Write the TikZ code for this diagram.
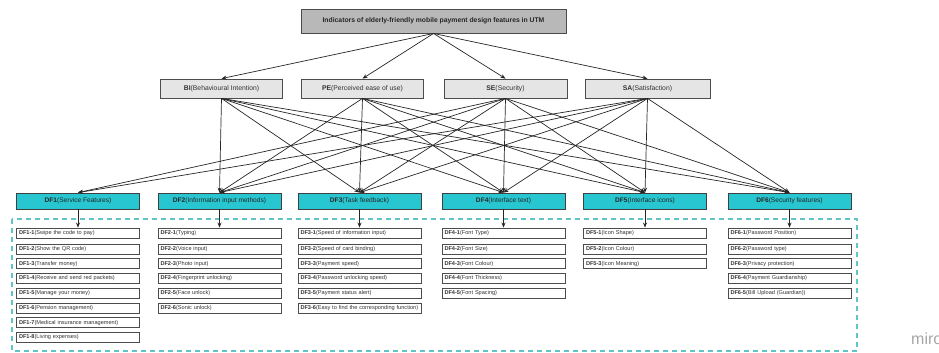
\documentclass[tikz,border=0pt]{standalone}
\usepackage{fontspec}
\setmainfont{Liberation Sans}
\usetikzlibrary{arrows.meta}
\definecolor{dfcyan}{RGB}{40,198,208}
\definecolor{framecyan}{RGB}{96,196,200}
\newcommand\itemcol[3]{%
  \foreach \t [count=\i] in {#3} {%
    \node[itembox] (c#1-\i) at (#2, {\i==1 ? 233 : 249+14.75*(\i-2)}) {\textbf{DF#1-\i}(\t)};
  }%
  \draw[link] (df#1.south) -- (c#1-1.north);
}
\begin{document}
\begin{tikzpicture}[x=1pt,y=-1pt,
  topbox/.style={draw=black!70, fill=black!28, line width=0.9pt, minimum width=265pt, minimum height=24pt, inner sep=0pt, font=\fontsize{6.8}{8}\selectfont\bfseries, text=black!85},
  facbox/.style={draw=black!70, fill=black!10, line width=0.8pt, minimum width=122pt, minimum height=19pt, inner sep=0pt, font=\fontsize{6.8}{8}\selectfont, text=black!80},
  dfbox/.style={draw=black!75, fill=dfcyan, line width=0.8pt, minimum width=123pt, minimum height=16pt, inner sep=0pt, font=\fontsize{6.6}{7.5}\selectfont, text=black!85},
  itembox/.style={draw=black!70, fill=white, line width=0.9pt, minimum height=10pt, inner xsep=2.5pt, inner ysep=0pt, text width=118pt, align=left, font=\fontsize{5.6}{6.5}\selectfont, text=black!80},
  link/.style={-{Stealth[length=5pt,width=4pt]}, line width=0.7pt, draw=black!85},
  frame/.style={draw=framecyan, dash pattern=on 5pt off 4pt, line width=1.1pt}
]
\useasboundingbox (0,0) rectangle (939,353);

% dashed frame
\draw[frame] (12,219) rectangle (857,351);

% top
\node[topbox] (top) at (433.5,21) {Indicators of elderly-friendly mobile payment design features in UTM};

% factors
\node[facbox] (bi) at (221.5,88.5) {\textbf{BI}(Behavioural Intention)};
\node[facbox] (pe) at (362.5,88.5) {\textbf{PE}(Perceived ease of use)};
\node[facbox, minimum width=123pt] (se) at (505.5,88.5) {\textbf{SE}(Security)};
\node[facbox, minimum width=125pt] (sa) at (647.5,88.5) {\textbf{SA}(Satisfaction)};

\foreach \f in {bi,pe,se,sa} \draw[link] (top.south) -- (\f.north);

% design features
\node[dfbox] (df1) at (78,201) {\textbf{DF1}(Service Features)};
\node[dfbox] (df2) at (219.5,201) {\textbf{DF2}(Information input methods)};
\node[dfbox] (df3) at (359.5,201) {\textbf{DF3}(Task feedback)};
\node[dfbox] (df4) at (503.5,201) {\textbf{DF4}(Interface text)};
\node[dfbox] (df5) at (645,201) {\textbf{DF5}(Interface icons)};
\node[dfbox] (df6) at (789.5,201) {\textbf{DF6}(Security features)};

\foreach \d in {2,...,6} {
  \draw[link] (bi.south) -- (df\d.north);
  \draw[link] (pe.south) -- (df\d.north);
}
\foreach \d in {1,...,6} {
  \draw[link] (se.south) -- (df\d.north);
  \draw[link] (sa.south) -- (df\d.north);
}

% items
\itemcol{1}{78}{Swipe the code to pay,Show the QR code,Transfer money,Receive and send red packets,Manage your money,Pension management,Medical insurance management,Living expenses}
\itemcol{2}{219.5}{Typing,Voice input,Photo input,Fingerprint unlocking,Face unlock,Sonic unlock}
\itemcol{3}{359.5}{Speed of information input,Speed of card binding,Payment speed,Password unlocking speed,Payment status alert,Easy to find the corresponding function}
\itemcol{4}{503.5}{Font Type,Font Size,Font Colour,Font Thickness,Font Spacing}
\itemcol{5}{645}{Icon Shape,Icon Colour,Icon Meaning}
\itemcol{6}{789.5}{Password Position,Password type,Privacy protection,Payment Guardianship,Bill Upload (Guardian)}

% watermark
\node[anchor=base west, inner sep=0pt, text=black!35, font=\fontsize{16}{17}\selectfont] (miro) at (911,344) {miro};
\end{tikzpicture}
\end{document}
